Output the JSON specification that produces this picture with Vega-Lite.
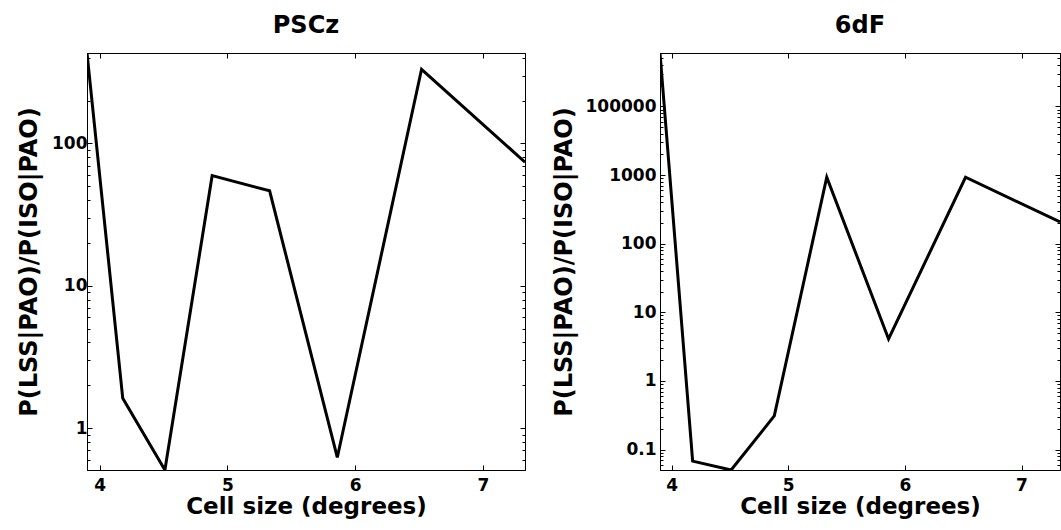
{
  "$schema": "https://vega.github.io/schema/vega-lite/v6.json",
  "padding": {"left": 17, "top": 13, "right": 0, "bottom": 0},
  "background": "white",
  "config": {
    "font": "DejaVu Sans",
    "view": {"stroke": "black", "strokeWidth": 1},
    "title": {"font": "DejaVu Sans", "fontWeight": "bold", "fontSize": 24, "color": "black", "frame": "group", "baseline": "alphabetic", "offset": 15},
    "axis": {
      "domainColor": "black", "domainWidth": 1,
      "tickColor": "black", "tickWidth": 1,
      "labelFont": "DejaVu Sans", "labelFontWeight": "bold", "labelFontSize": 17, "labelColor": "black",
      "titleFont": "DejaVu Sans", "titleFontWeight": "bold", "titleColor": "black",
      "grid": false, "labelOverlap": false, "labelFlush": false
    }
  },
  "datasets": {
    "pscz": [
      {"cell": 3.9, "ratio": 432},
      {"cell": 4.18, "ratio": 1.62},
      {"cell": 4.51, "ratio": 0.508},
      {"cell": 4.88, "ratio": 59.4},
      {"cell": 5.33, "ratio": 46.5},
      {"cell": 5.86, "ratio": 0.622},
      {"cell": 6.52, "ratio": 332},
      {"cell": 7.33, "ratio": 73.9}
    ],
    "sixdf": [
      {"cell": 3.9, "ratio": 60000},
      {"cell": 4.18, "ratio": 0.068},
      {"cell": 4.51, "ratio": 0.0505},
      {"cell": 4.88, "ratio": 0.31},
      {"cell": 5.33, "ratio": 929},
      {"cell": 5.86, "ratio": 4.09},
      {"cell": 6.52, "ratio": 929},
      {"cell": 7.33, "ratio": 207}
    ]
  },
  "bounds": "flush",
  "spacing": 135,
  "hconcat": [
    {
      "width": 438, "height": 417,
      "title": {"text": "PSCz"},
      "data": {"name": "pscz"},
      "layer": [
        {
          "mark": {"type": "line", "color": "black", "strokeWidth": 3, "clip": true},
          "encoding": {
            "x": {"field": "cell", "type": "quantitative",
              "scale": {"domain": [3.9, 7.33], "nice": false, "zero": false},
              "axis": {"orient": "bottom", "values": [4, 5, 6, 7], "tickSize": -5, "labelPadding": 12, "title": "Cell size (degrees)", "titleFontSize": 23, "titlePadding": 2}},
            "y": {"field": "ratio", "type": "quantitative",
              "scale": {"type": "log", "domain": [0.508, 432], "nice": false},
              "axis": {"orient": "left",
                "values": [0.6,0.7,0.8,0.9,1,2,3,4,5,6,7,8,9,10,20,30,40,50,60,70,80,90,100,200,300,400],
                "labelExpr": "indexof([1,10,100], datum.value) >= 0 ? format(datum.value, '~g') : ''",
                "labelFontSize": {"condition": {"test": "indexof([1,10,100], datum.value) >= 0", "value": 17}, "value": 0},
                "tickSize": {"condition": {"test": "indexof([1,10,100], datum.value) >= 0", "value": -5}, "value": -3},
                "labelPadding": 5,
                "title": "P(LSS|PAO)/P(ISO|PAO)", "titleFontSize": 24, "titlePadding": 10}}
          }
        },
        {
          "mark": {"type": "line", "opacity": 0, "clip": true},
          "encoding": {
            "x": {"field": "cell", "type": "quantitative",
              "axis": {"orient": "top", "values": [4, 5, 6, 7], "tickSize": -5, "labels": false, "title": null}},
            "y": {"field": "ratio", "type": "quantitative",
              "axis": {"orient": "right",
                "values": [0.6,0.7,0.8,0.9,1,2,3,4,5,6,7,8,9,10,20,30,40,50,60,70,80,90,100,200,300,400],
                "tickSize": {"condition": {"test": "indexof([1,10,100], datum.value) >= 0", "value": -5}, "value": -3},
                "labels": false, "title": null}}
          }
        }
      ],
      "resolve": {"axis": {"x": "independent", "y": "independent"}}
    },
    {
      "width": 400, "height": 417,
      "title": {"text": "6dF"},
      "data": {"name": "sixdf"},
      "layer": [
        {
          "mark": {"type": "line", "color": "black", "strokeWidth": 3, "clip": true},
          "encoding": {
            "x": {"field": "cell", "type": "quantitative",
              "scale": {"domain": [3.9, 7.33], "nice": false, "zero": false},
              "axis": {"orient": "bottom", "values": [4, 5, 6, 7], "tickSize": -5, "labelPadding": 12, "title": "Cell size (degrees)", "titleFontSize": 23, "titlePadding": 2}},
            "y": {"field": "ratio", "type": "quantitative",
              "scale": {"type": "log", "domain": [0.0505, 60000], "nice": false},
              "axis": {"orient": "left",
                "values": [0.06,0.07,0.08,0.09,0.1,0.2,0.3,0.4,0.5,0.6,0.7,0.8,0.9,1,2,3,4,5,6,7,8,9,10,20,30,40,50,60,70,80,90,100,200,300,400,500,600,700,800,900,1000,2000,3000,4000,5000,6000,7000,8000,9000,10000,20000,30000,40000,50000,60000],
                "labelExpr": "datum.value == 10000 ? '100000' : indexof([0.1,1,10,100,1000], datum.value) >= 0 ? format(datum.value, '~g') : ''",
                "labelFontSize": {"condition": {"test": "indexof([0.1,1,10,100,1000,10000], datum.value) >= 0", "value": 17}, "value": 0},
                "tickSize": {"condition": {"test": "indexof([0.1,1,10,100,1000,10000], datum.value) >= 0", "value": -5}, "value": -3},
                "labelPadding": 9,
                "title": "P(LSS|PAO)/P(ISO|PAO)", "titleFontSize": 24, "titlePadding": 9}}
          }
        },
        {
          "mark": {"type": "line", "opacity": 0, "clip": true},
          "encoding": {
            "x": {"field": "cell", "type": "quantitative",
              "axis": {"orient": "top", "values": [4, 5, 6, 7], "tickSize": -5, "labels": false, "title": null}},
            "y": {"field": "ratio", "type": "quantitative",
              "axis": {"orient": "right",
                "values": [0.06,0.07,0.08,0.09,0.1,0.2,0.3,0.4,0.5,0.6,0.7,0.8,0.9,1,2,3,4,5,6,7,8,9,10,20,30,40,50,60,70,80,90,100,200,300,400,500,600,700,800,900,1000,2000,3000,4000,5000,6000,7000,8000,9000,10000,20000,30000,40000,50000,60000],
                "tickSize": {"condition": {"test": "indexof([0.1,1,10,100,1000,10000], datum.value) >= 0", "value": -5}, "value": -3},
                "labels": false, "title": null}}
          }
        }
      ],
      "resolve": {"axis": {"x": "independent", "y": "independent"}}
    }
  ]
}
